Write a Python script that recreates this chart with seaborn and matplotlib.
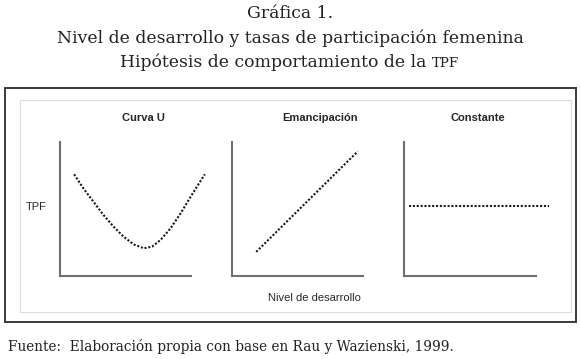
import numpy as np
import pandas as pd
import seaborn as sns
from matplotlib import pyplot as plt
from matplotlib.patches import Rectangle

# data (axes run 0..10 on both sides)
u_x = [1.08, 1.79, 2.56, 3.33, 4.10, 4.87, 5.64, 6.41, 7.05, 7.69, 8.46, 9.23, 10.0, 10.64, 11.08]
u_y = [7.59, 6.54, 5.54, 4.55, 3.68, 2.93, 2.36, 2.07, 2.19, 2.69, 3.56, 4.68, 5.92, 6.92, 7.59]
em_x = [1.83, 9.60]
em_y = [1.80, 9.30]
con_x = [0.38, 11.0]
con_y = [5.2, 5.2]

panel_titles = ['Curva U', 'Emancipación', 'Constante']
title_lines = ['Gráfica 1.', 'Nivel de desarrollo y tasas de participación femenina']
title_line3 = 'Hipótesis de comportamiento de la '
title_sc = 'TPF'
y_label = 'TPF'
x_label = 'Nivel de desarrollo'
source = 'Fuente:  Elaboración propia con base en Rau y Wazienski, 1999.'

sns.set_style('white')
plt.rcParams['font.family'] = ['Liberation Sans', 'DejaVu Sans']

W, H = 580, 359
fig = plt.figure(figsize=(W / 100, H / 100), dpi=100)


def fx(px):
    return px / W


def fy(py):
    return 1 - py / H


'''---------------- frames ----------------'''
fig.patches.append(Rectangle((fx(5), fy(322)), fx(571), 234 / H, transform=fig.transFigure,
                             fill=False, ec='#3a3a3a', lw=1.4))
fig.patches.append(Rectangle((fx(19.5), fy(312)), fx(551.5), 212 / H, transform=fig.transFigure,
                             fill=False, ec='#dcdcdc', lw=0.8))

'''---------------- panels ----------------'''
panels = [(60, 190.7, 143, u_x, u_y),
          (232.3, 363, 320, em_x, em_y),
          (404, 536, 478, con_x, con_y)]

for (left, right, tc, xs, ys), name in zip(panels, panel_titles):
    ax = fig.add_axes([fx(left), fy(276), fx(right) - fx(left), 134 / H])
    df = pd.DataFrame({'x': xs, 'y': ys})
    sns.lineplot(data=df, x='x', y='y', ax=ax, color='#1a1a1a', lw=1.5,
                 linestyle=(0, (1, 0.85)), clip_on=False, sort=False)
    ax.set_xlim(0, 10)
    ax.set_ylim(0, 10)
    ax.set_xticks([])
    ax.set_yticks([])
    ax.set_xlabel('')
    ax.set_ylabel('')
    ax.patch.set_alpha(0)
    for s in ['top', 'right']:
        ax.spines[s].set_visible(False)
    for s in ['left', 'bottom']:
        ax.spines[s].set_color('#707070')
        ax.spines[s].set_linewidth(1.5)
    fig.text(fx(tc), fy(118), name, ha='center', va='center', fontsize=8, fontweight='bold')

fig.text(fx(36), fy(207), y_label, ha='center', va='center', fontsize=8)
fig.text(fx(314), fy(298), x_label, ha='center', va='center', fontsize=8)

'''---------------- serif titles ----------------'''
serif = ['DejaVu Serif']
tsize = 12.4
tcol = '#222222'
fig.text(0.5, fy(13), title_lines[0], ha='center', va='center', fontsize=tsize, family=serif, color=tcol)
fig.text(0.5, fy(38), title_lines[1], ha='center', va='center', fontsize=tsize, family=serif, color=tcol)

# third line with TPF in small caps
r = fig.canvas.get_renderer()
t1 = fig.text(0, fy(67), title_line3, ha='left', va='baseline', fontsize=tsize, family=serif, color=tcol)
t2 = fig.text(0, fy(67), title_sc, ha='left', va='baseline', fontsize=tsize * 0.78, family=serif, color=tcol)
w1 = t1.get_window_extent(r).width
w2 = t2.get_window_extent(r).width
x0 = (W - w1 - w2) / 2
t1.set_x(fx(x0))
t2.set_x(fx(x0 + w1))

fig.text(fx(8), fy(346), source, ha='left', va='center', fontsize=9.8, family=serif, color=tcol)

plt.savefig('out.png', dpi=100)
